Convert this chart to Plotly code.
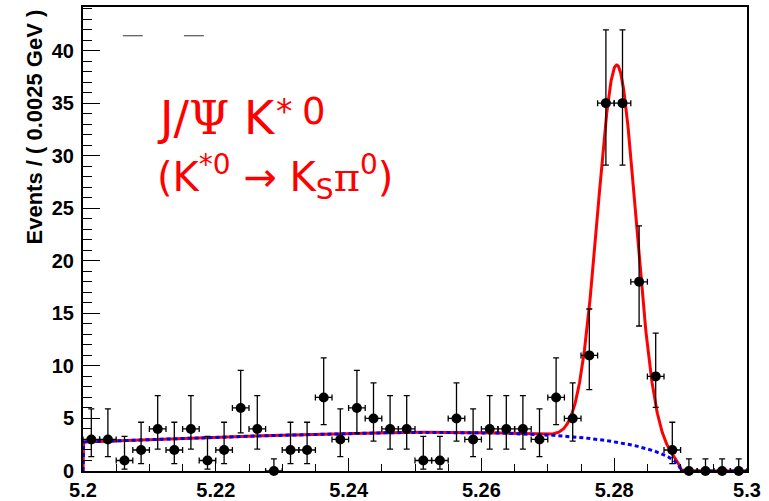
import math
import numpy as np
import plotly.graph_objects as go

# ---- binned data: B candidate mass, 40 bins of 0.0025 GeV ----
bin_lo = 5.20
bin_width = 0.0025
counts = [3, 3, 1, 2, 4, 2, 4, 1, 2, 6,
          4, 0, 2, 2, 7, 3, 6, 5, 4, 4,
          1, 1, 5, 3, 4, 4, 4, 3, 7, 5,
          11, 35, 35, 18, 9, 2, 0, 0, 0, 0]

# ---- fit model parameters (events per bin) ----
sig_mean = 5.2804
sig_sigma = 0.00286
sig_peak = 35.9
argus_m0 = 5.29
argus_c = -36.3
bkg_peak = 3.68

# ---- axis ticks ----
x_tickvals = [5.20, 5.22, 5.24, 5.26, 5.28, 5.30]
x_ticktext = ["5.2", "5.22", "5.24", "5.26", "5.28", "5.3"]
y_tickvals = [0, 5, 10, 15, 20, 25, 30, 35, 40]


def poisson_cdf(n, mu):
    term = math.exp(-mu)
    total = term
    for k in range(1, n + 1):
        term *= mu / k
        total += term
    return total


def solve(fn, target, lo, hi):
    # fn is decreasing in mu
    for _ in range(200):
        mid = 0.5 * (lo + hi)
        if fn(mid) > target:
            lo = mid
        else:
            hi = mid
    return 0.5 * (lo + hi)


def poisson_interval(n, cl=0.6827):
    alpha = 1.0 - cl
    if n == 0:
        return 0.0, -math.log(alpha)
    lo = solve(lambda mu: poisson_cdf(n - 1, mu), 1.0 - alpha / 2, 0.0, n + 50.0)
    hi = solve(lambda mu: poisson_cdf(n, mu), alpha / 2, 0.0, n + 50.0)
    return lo, hi


centers = [bin_lo + (i + 0.5) * bin_width for i in range(len(counts))]
err_lo, err_hi = [], []
for n in counts:
    lo, hi = poisson_interval(n)
    err_lo.append(n - lo)
    err_hi.append(hi - n)


def argus_shape(m):
    u = np.clip(1.0 - (m / argus_m0) ** 2, 0, None)
    return np.where(u > 0, m * np.sqrt(u) * np.exp(argus_c * u), 0.0)


grid = np.linspace(5.2, 5.3, 2001)
shape = argus_shape(grid)
bkg = bkg_peak * shape / shape.max()
sig = sig_peak * np.exp(-0.5 * ((grid - sig_mean) / sig_sigma) ** 2)
total = bkg + sig

# curves are closed down to zero at the range edges
cx = np.concatenate([[grid[0]], grid, [grid[-1]]])
c_tot = np.concatenate([[0.0], total, [0.0]])
c_bkg = np.concatenate([[0.0], bkg, [0.0]])

fig = go.Figure()
fig.add_trace(go.Scatter(x=cx, y=c_tot, mode="lines",
                         line=dict(color="#ff0000", width=3),
                         hoverinfo="skip", showlegend=False, cliponaxis=False))
fig.add_trace(go.Scatter(x=cx, y=c_bkg, mode="lines",
                         line=dict(color="#0000ff", width=3, dash="4px,3px"),
                         hoverinfo="skip", showlegend=False, cliponaxis=False))
fig.add_trace(go.Scatter(
    x=centers, y=counts, mode="markers",
    marker=dict(color="black", size=10, symbol="circle"),
    error_y=dict(type="data", symmetric=False, array=err_hi, arrayminus=err_lo,
                 color="black", thickness=1.3, width=3),
    error_x=dict(type="constant", value=bin_width / 2, color="black",
                 thickness=1.3, width=3),
    showlegend=False, cliponaxis=False))

tick_font = dict(family="Liberation Sans, Arial, sans-serif", size=20, color="black", weight="bold")

fig.update_layout(
    width=769, height=501,
    margin=dict(l=83, r=22, t=7, b=30),
    paper_bgcolor="white", plot_bgcolor="white",
    xaxis=dict(range=[5.2, 5.3], tickvals=x_tickvals, ticktext=x_ticktext,
               ticks="inside", ticklen=13, tickwidth=1, tickcolor="black",
               minor=dict(dtick=0.005, tick0=5.2, ticks="inside", ticklen=7,
                          tickwidth=1, tickcolor="black"),
               showline=True, linecolor="black", linewidth=2, mirror=True,
               showgrid=False, zeroline=False, tickfont=tick_font,
               automargin=False),
    yaxis=dict(range=[0, 44.15], tickvals=y_tickvals,
               ticks="inside", ticklen=17, tickwidth=1, tickcolor="black",
               minor=dict(dtick=1, tick0=0, ticks="inside", ticklen=9,
                          tickwidth=1, tickcolor="black"),
               showline=True, linecolor="black", linewidth=2, mirror=True,
               showgrid=False, zeroline=False, tickfont=tick_font,
               ticklabelstandoff=3, automargin=False),
)

red_font = "DejaVu Sans, Verdana, sans-serif"
red = "#ff0000"
# channel label, first line: main text and its superscript pieces
fig.add_annotation(
    text="J/<span style='font-family:DejaVu Serif'>Ψ</span> K",
    xref="paper", yref="paper", x=0.108, y=0.823, xanchor="left", yanchor="top",
    showarrow=False, font=dict(family=red_font, size=46, color=red))
fig.add_annotation(
    text="*",
    xref="paper", yref="paper", x=0.2877, y=0.822, xanchor="left", yanchor="top",
    showarrow=False, font=dict(family=red_font, size=33, color=red))
fig.add_annotation(
    text="0",
    xref="paper", yref="paper", x=0.3270, y=0.826, xanchor="left", yanchor="top",
    showarrow=False, font=dict(family=red_font, size=37, color=red))
# second line: decay mode
fig.add_annotation(
    text="(K<sup>*0</sup> → K<sub>S</sub><span style='font-family:DejaVu Serif'>π</span><sup>0</sup>)",
    xref="paper", yref="paper", x=0.109, y=0.634, xanchor="left", yanchor="middle",
    showarrow=False, font=dict(family=red_font, size=40, color=red))

fig.add_annotation(
    text="Events / ( 0.0025 GeV )", textangle=-90,
    xref="paper", yref="paper", x=-0.0723, y=1.0, xanchor="center", yanchor="top",
    showarrow=False, font=dict(family="Liberation Sans, Arial, sans-serif", size=22,
                               color="black", weight="bold"))

# two short marks near the top-left corner
for x0, x1 in [(0.060, 0.090), (0.152, 0.182)]:
    fig.add_shape(type="line", xref="paper", yref="paper", x0=x0, x1=x1,
                  y0=0.938, y1=0.938, line=dict(color="#333333", width=1))

fig.write_html("out.html")
